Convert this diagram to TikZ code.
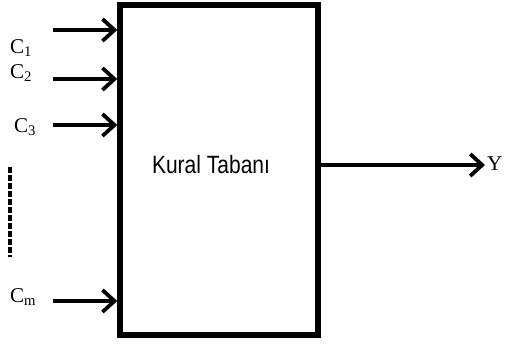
\documentclass[tikz,border=0pt]{standalone}
\usepackage{fontspec}
\setmainfont{Liberation Serif}
\newfontfamily\boxfont{Liberation Sans}
\usetikzlibrary{arrows.meta}
\begin{document}
\begin{tikzpicture}[x=1pt,y=-1pt,
  inarrow/.style={line width=4.2pt,-{Straight Barb[length=12pt,width=22pt,line width=3.8pt]}},
  clabel/.style={inner sep=0pt,font=\fontsize{21}{21}\selectfont},
  blockbox/.style={draw,line width=5.5pt,minimum width=198pt,minimum height=330pt,inner sep=0pt}]
  \useasboundingbox (0,0) rectangle (505,343);
  % rule base block
  \node[blockbox] (box) at (219,170) {};
  \node[inner sep=0pt] (title) at (211,165)
    {\scalebox{0.84}[1]{\boxfont\fontsize{25}{25}\selectfont Kural Tabanı}};
  % inputs
  \coordinate (i1) at (53,30);
  \coordinate (i2) at (53,79);
  \coordinate (i3) at (53,125);
  \coordinate (im) at (53,301);
  \draw[inarrow] (i1) -- (i1 -| box.west);
  \draw[inarrow] (i2) -- (i2 -| box.west);
  \draw[inarrow] (i3) -- (i3 -| box.west);
  \draw[inarrow] (im) -- (im -| box.west);
  \node[clabel] (c1) at (21,48) {C\textsubscript{1}};
  \node[clabel] (c2) at (21,73) {C\textsubscript{2}};
  \node[clabel] (c3) at (25,127) {C\textsubscript{3}};
  \node[clabel] (cm) at (23,297) {C\textsubscript{m}};
  % ellipsis between inputs
  \coordinate (d1) at (10,167);
  \coordinate (d2) at (10,257);
  \draw[line width=4pt,dash pattern=on 6pt off 2pt] (d1) -- (d2);
  % output
  \coordinate (out) at (485,165);
  \draw[inarrow] (box.east |- out) -- (out);
  \node[clabel,anchor=west] (y) at (487,164) {Y};
\end{tikzpicture}
\end{document}
